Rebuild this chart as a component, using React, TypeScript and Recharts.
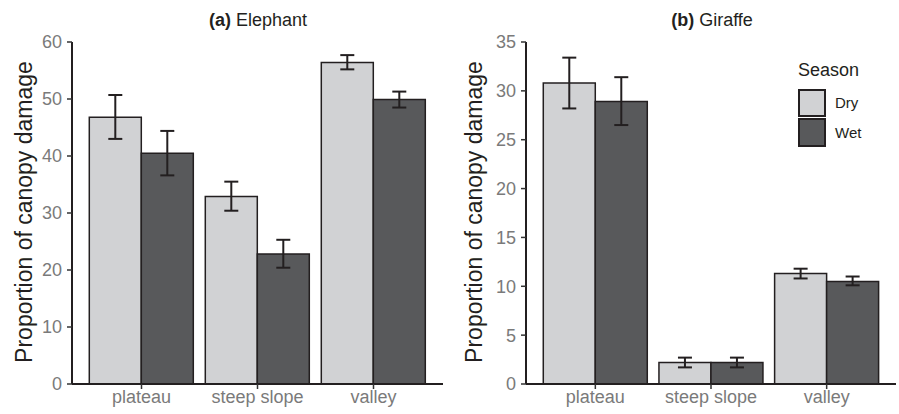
import React from 'react';
import { BarChart, Bar, XAxis, YAxis, ErrorBar } from 'recharts';

const categories = ['plateau', 'steep slope', 'valley'];

const elephantDry = [46.8, 32.9, 56.4];
const elephantDryLow = [43.0, 30.4, 55.2];
const elephantDryHigh = [50.7, 35.5, 57.7];
const elephantWet = [40.5, 22.8, 49.9];
const elephantWetLow = [36.6, 20.4, 48.5];
const elephantWetHigh = [44.4, 25.3, 51.3];

const giraffeDry = [30.8, 2.2, 11.3];
const giraffeDryLow = [28.2, 1.7, 10.8];
const giraffeDryHigh = [33.4, 2.7, 11.8];
const giraffeWet = [28.9, 2.2, 10.5];
const giraffeWetLow = [26.5, 1.7, 10.1];
const giraffeWetHigh = [31.4, 2.7, 11.0];

const elephantTicks = [0, 10, 20, 30, 40, 50, 60];
const giraffeTicks = [0, 5, 10, 15, 20, 25, 30, 35];

const seasons = ['Dry', 'Wet'];
const DRY = '#d1d2d4';
const WET = '#58595b';
const INK = '#231f20';
const FONT = '"Liberation Sans", Arial, Helvetica, sans-serif';

function build(dry: number[], dryLo: number[], dryHi: number[], wet: number[], wetLo: number[], wetHi: number[]) {
  return categories.map((c, i) => ({
    cat: c,
    Dry: dry[i],
    Wet: wet[i],
    dryErr: [dry[i] - dryLo[i], dryHi[i] - dry[i]],
    wetErr: [wet[i] - wetLo[i], wetHi[i] - wet[i]],
  }));
}

const elephantData = build(elephantDry, elephantDryLow, elephantDryHigh, elephantWet, elephantWetLow, elephantWetHigh);
const giraffeData = build(giraffeDry, giraffeDryLow, giraffeDryHigh, giraffeWet, giraffeWetLow, giraffeWetHigh);

type PanelProps = {
  data: any[];
  ticks: number[];
  max: number;
  yWidth: number;
  rightMargin: number;
};

function Panel({ data, ticks, max, yWidth, rightMargin }: PanelProps) {
  const tickStyle = { fill: '#7a7a7a', fontSize: 18, fontFamily: FONT };
  return (
    <BarChart
      width={450}
      height={414}
      data={data}
      margin={{ top: 42, right: rightMargin, bottom: 0, left: 0 }}
      barCategoryGap="5%"
      barGap={0}
    >
      <XAxis
        xAxisId="top"
        orientation="top"
        dataKey="cat"
        height={0}
        tick={false}
        tickLine={false}
        axisLine={{ stroke: '#8a8a8a', strokeWidth: 1 }}
      />
      <YAxis
        yAxisId="right"
        orientation="right"
        width={0}
        tick={false}
        tickLine={false}
        axisLine={{ stroke: '#8a8a8a', strokeWidth: 1 }}
      />
      <XAxis
        dataKey="cat"
        height={30}
        padding={{ left: 11.5, right: 11.5 }}
        tick={tickStyle}
        tickLine={{ stroke: '#333', strokeWidth: 1.5 }}
        tickSize={5}
        tickMargin={1}
        axisLine={{ stroke: INK, strokeWidth: 2 }}
        interval={0}
      />
      <YAxis
        width={yWidth}
        domain={[0, max]}
        ticks={ticks}
        tick={tickStyle}
        tickLine={{ stroke: '#333', strokeWidth: 1.5 }}
        tickSize={5}
        tickMargin={5}
        axisLine={{ stroke: INK, strokeWidth: 2 }}
        allowDataOverflow
        label={{
          content: () => (
            <text
              x={24}
              y={212}
              transform="rotate(-90 24 212)"
              textAnchor="middle"
              dominantBaseline="central"
              fontSize={23}
              fontFamily={FONT}
              fill="#231f20"
            >
              Proportion of canopy damage
            </text>
          ),
        }}
      />
      <Bar dataKey="Dry" fill={DRY} stroke={INK} strokeWidth={1.5} isAnimationActive={false}>
        <ErrorBar dataKey="dryErr" width={7} stroke={INK} strokeWidth={2} />
      </Bar>
      <Bar dataKey="Wet" fill={WET} stroke={INK} strokeWidth={1.5} isAnimationActive={false}>
        <ErrorBar dataKey="wetErr" width={7} stroke={INK} strokeWidth={2} />
      </Bar>
    </BarChart>
  );
}

function Title({ tag, name, left }: { tag: string; name: string; left: number }) {
  return (
    <div
      style={{
        position: 'absolute',
        left,
        top: 10,
        width: 0,
        display: 'flex',
        justifyContent: 'center',
        whiteSpace: 'nowrap',
        fontFamily: FONT,
        fontSize: 18,
        color: '#231f20',
      }}
    >
      <span>
        <b>{tag}</b> {name}
      </span>
    </div>
  );
}

function SeasonLegend() {
  const colors = [DRY, WET];
  return (
    <div style={{ position: 'absolute', left: 798, top: 60, fontFamily: FONT, color: '#231f20' }}>
      <div style={{ fontSize: 18, height: 21, marginBottom: 7 }}>Season</div>
      {seasons.map((s, i) => (
        <div key={s} style={{ display: 'flex', alignItems: 'center', height: 29.5 }}>
          <div
            style={{
              boxSizing: 'border-box',
              width: 28,
              height: 28.5,
              background: colors[i],
              border: `2px solid ${INK}`,
            }}
          />
          <span style={{ fontSize: 15, marginLeft: 9 }}>{s}</span>
        </div>
      ))}
    </div>
  );
}

export default function App() {
  return (
    <div style={{ position: 'absolute', left: 0, top: 0, width: 899, height: 414, background: '#fff' }}>
      <div style={{ position: 'absolute', left: 0, top: 0 }}>
        <Panel data={elephantData} ticks={elephantTicks} max={60} yWidth={72} rightMargin={7} />
      </div>
      <div style={{ position: 'absolute', left: 450, top: 0 }}>
        <Panel data={giraffeData} ticks={giraffeTicks} max={35} yWidth={76} rightMargin={4} />
      </div>
      <Title tag="(a)" name="Elephant" left={258} />
      <Title tag="(b)" name="Giraffe" left={712} />
      <SeasonLegend />
    </div>
  );
}
